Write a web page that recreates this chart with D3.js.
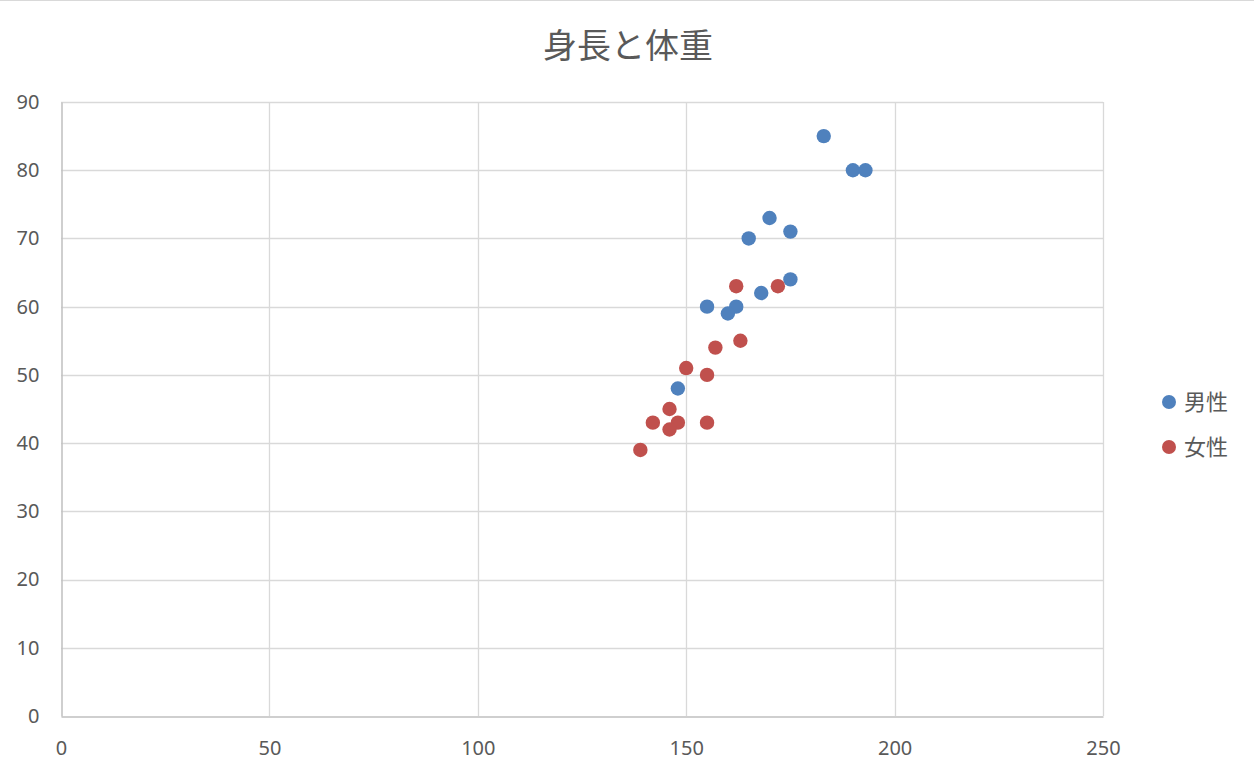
<!DOCTYPE html>
<html><head><meta charset="utf-8">
<script src="https://cdn.jsdelivr.net/npm/d3@7"></script>
<style>
html,body{margin:0;padding:0;background:#fff;}
svg{display:block;font-family:"Noto Sans CJK JP","Noto Sans",sans-serif;}
</style></head>
<body><svg id="c" width="1254" height="776"></svg>
<script>
const title = "身長と体重";
const seriesNames = ["男性", "女性"];
const seriesColors = ["#4f81bd", "#c0504d"];
const maleHeight = [183, 190, 193, 170, 165, 175, 175, 168, 162, 155, 160, 148];
const maleWeight = [85, 80, 80, 73, 70, 71, 64, 62, 60, 60, 59, 48];
const femaleHeight = [162, 172, 157, 163, 150, 155, 146, 142, 148, 146, 155, 139];
const femaleWeight = [63, 63, 54, 55, 51, 50, 45, 43, 43, 42, 43, 39];
const xTicks = [0, 50, 100, 150, 200, 250];
const yTicks = [0, 10, 20, 30, 40, 50, 60, 70, 80, 90];

const svg = d3.select("#c");
const x = d3.scaleLinear().domain([0, 250]).range([61, 1103]);
const y = d3.scaleLinear().domain([0, 90]).range([716, 102]);

svg.append("line").attr("x1", 0).attr("x2", 1254).attr("y1", 0.5).attr("y2", 0.5)
  .attr("stroke", "#d9d9d9");

svg.append("text").attr("x", 628).attr("y", 58).attr("text-anchor", "middle")
  .attr("font-size", 34).attr("fill", "#595959").text(title);

// gridlines
svg.append("g").selectAll("line").data(yTicks.filter(d => d > 0)).join("line")
  .attr("x1", x(0)).attr("x2", x(250)).attr("y1", d => Math.round(y(d)) + 0.5).attr("y2", d => Math.round(y(d)) + 0.5)
  .attr("stroke", "#d9d9d9").attr("stroke-width", 1.3);
svg.append("g").selectAll("line").data(xTicks.filter(d => d > 0)).join("line")
  .attr("y1", y(0)).attr("y2", y(90)).attr("x1", d => Math.round(x(d)) + 0.5).attr("x2", d => Math.round(x(d)) + 0.5)
  .attr("stroke", "#d9d9d9").attr("stroke-width", 1.3);

// axes
const xAxis = d3.axisBottom(x).tickValues(xTicks).tickSize(0).tickPadding(24);
const gx = svg.append("g").attr("transform", `translate(0,${Math.round(y(0)) + 0.5})`).call(xAxis);
gx.select(".domain").attr("stroke", "#bfbfbf").attr("stroke-width", 1.5);
gx.selectAll("text").attr("font-size", 20).attr("fill", "#595959").attr("font-family", "'Noto Sans','Open Sans',sans-serif");

const yAxis = d3.axisLeft(y).tickValues(yTicks).tickSize(0).tickPadding(22);
const gy = svg.append("g").attr("transform", `translate(${Math.round(x(0)) + 0.5},0)`).call(yAxis);
gy.select(".domain").attr("stroke", "#bfbfbf").attr("stroke-width", 1.5);
gy.selectAll("text").attr("font-size", 20).attr("fill", "#595959").attr("font-family", "'Noto Sans','Open Sans',sans-serif");

// points
const series = [
  {name: seriesNames[0], color: seriesColors[0], pts: maleHeight.map((h, i) => [h, maleWeight[i]])},
  {name: seriesNames[1], color: seriesColors[1], pts: femaleHeight.map((h, i) => [h, femaleWeight[i]])}
];
series.forEach(s => {
  svg.append("g").selectAll("circle").data(s.pts).join("circle")
    .attr("cx", d => x(d[0])).attr("cy", d => y(d[1])).attr("r", 7.2)
    .attr("fill", s.color);
});

// legend
const lg = svg.append("g");
series.forEach((s, i) => {
  const yy = 402 + i * 45;
  lg.append("circle").attr("cx", 1169).attr("cy", yy).attr("r", 7).attr("fill", s.color);
  lg.append("text").attr("x", 1184).attr("y", yy).attr("dy", "0.36em")
    .attr("font-size", 22).attr("fill", "#595959").text(s.name);
});
</script></body></html>
